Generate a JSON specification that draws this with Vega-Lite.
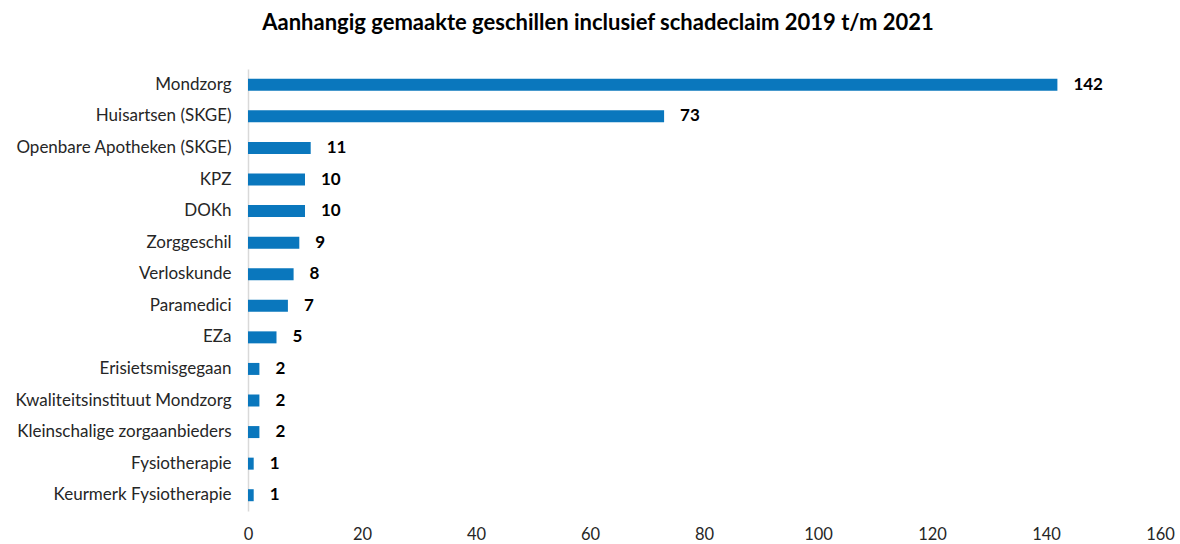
{
  "$schema": "https://vega.github.io/schema/vega-lite/v6.json",
  "width": 912,
  "height": 442,
  "autosize": {"type": "none"},
  "padding": {"left": 248, "top": 69, "right": 20, "bottom": 33},
  "background": "white",
  "title": {
    "text": "Aanhangig gemaakte geschillen inclusief schadeclaim 2019 t/m 2021",
    "font": "Lato",
    "fontSize": 22,
    "fontWeight": "bold",
    "color": "#000000",
    "anchor": "middle",
    "offset": 34,
    "dx": -106
  },
  "config": {"view": {"stroke": null}},
  "data": {
    "values": [
      {"categorie": "Mondzorg", "aantal": 142},
      {"categorie": "Huisartsen (SKGE)", "aantal": 73},
      {"categorie": "Openbare Apotheken (SKGE)", "aantal": 11},
      {"categorie": "KPZ", "aantal": 10},
      {"categorie": "DOKh", "aantal": 10},
      {"categorie": "Zorggeschil", "aantal": 9},
      {"categorie": "Verloskunde", "aantal": 8},
      {"categorie": "Paramedici", "aantal": 7},
      {"categorie": "EZa ", "aantal": 5},
      {"categorie": "Erisietsmisgegaan", "aantal": 2},
      {"categorie": "Kwaliteitsinstituut Mondzorg", "aantal": 2},
      {"categorie": "Kleinschalige zorgaanbieders", "aantal": 2},
      {"categorie": "Fysiotherapie", "aantal": 1},
      {"categorie": "Keurmerk Fysiotherapie", "aantal": 1}
    ]
  },
  "encoding": {
    "y": {
      "field": "categorie",
      "type": "nominal",
      "sort": null,
      "scale": {"paddingInner": 0.62, "paddingOuter": 0.31},
      "axis": {
        "title": null,
        "ticks": false,
        "domainColor": "#d9d9d9",
        "domainWidth": 1.5,
        "labelFont": "Lato",
        "labelFontSize": 17,
        "labelColor": "#262626",
        "labelPadding": 17,
        "labelLimit": 300
      }
    },
    "x": {
      "field": "aantal",
      "type": "quantitative",
      "scale": {"domain": [0, 160]},
      "axis": {
        "title": null,
        "values": [0, 20, 40, 60, 80, 100, 120, 140, 160],
        "domain": false,
        "ticks": false,
        "grid": false,
        "labelFont": "Lato",
        "labelFontSize": 16.5,
        "labelColor": "#262626",
        "labelPadding": 15,
        "labelFlush": false
      }
    }
  },
  "layer": [
    {"mark": {"type": "bar", "color": "#0a77bd"}},
    {
      "mark": {
        "type": "text",
        "align": "left",
        "baseline": "middle",
        "dx": 16,
        "font": "Lato",
        "fontSize": 17,
        "fontWeight": "bold",
        "color": "#000000"
      },
      "encoding": {"text": {"field": "aantal", "type": "quantitative"}}
    }
  ]
}
